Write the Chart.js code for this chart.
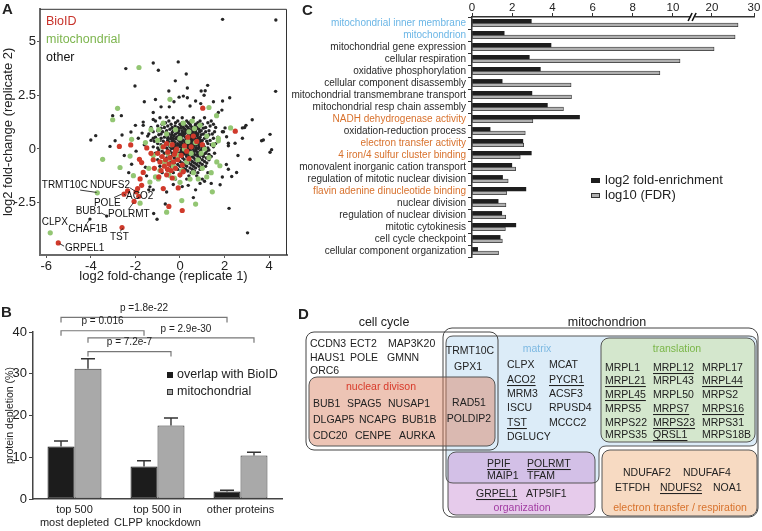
<!DOCTYPE html>
<html>
<head>
<meta charset="utf-8">
<title>CLPP proximity figure</title>
<script src="https://cdn.jsdelivr.net/npm/chart.js@4.4.1/dist/chart.umd.min.js"></script>
<style>
    html, body { margin: 0; padding: 0; background: #fff; }
    body { position: relative; width: 762px; height: 531px; overflow: hidden;
           font-family: 'Liberation Sans', Arial, sans-serif; color: #222; }
    canvas, svg { position: absolute; }
    .tag { position: absolute; font-weight: bold; font-size: 15px; line-height: 15px; }
</style>
</head>
<body>
<canvas id="chartA" width="295" height="285" style="left:0;top:0"></canvas>
<canvas id="chartB" width="292" height="241" style="left:0;top:290px"></canvas>
<canvas id="chartC" width="500" height="290" style="left:262px;top:0"></canvas>
<svg id="panelD" width="762" height="531" style="left:0;top:0"></svg>
<div class="tag" style="left:2px;top:1px">A</div>
<div class="tag" style="left:1px;top:304px">B</div>
<div class="tag" style="left:302px;top:2px">C</div>
<div class="tag" style="left:298px;top:306px">D</div>

<script>
/************************** 数据 A：散点 (replicate 1, replicate 2) **************************/
var bioidPts = [
    [1.02, 1.9], [2.48, 0.83], [-2.72, 0.12], [-2.21, 0.19], [-1.49, 0.05], [-1.72, -0.63], [-1.82, -0.48],
    [-1.65, -1.09], [-1.79, -1.39], [-1.72, -1.69], [-1.9, -1.84], [-0.75, -1.84], [-0.08, -1.81], [0.1, -2.86],
    [-0.5, -2.67], [-1.85, -2.2], [-2.51, -2.1], [-2.06, -2.44], [-2.6, -3.65], [-5.46, -4.37], [-2.35, -1.95],
    [-1.97, -1.99], [0.75, 0.35], [0.3, -0.1], [0.6, 0.6], [1.0, 0.2], [-1.0, -0.2], [-0.9, -0.6], [-0.85, -1.0],
    [-0.8, -0.35], [-0.75, 0.1], [-0.7, -0.8], [-0.65, -0.5], [-0.6, -1.2], [-0.55, -0.15], [-0.5, -0.7],
    [-0.45, -0.4], [-0.4, -1.0], [-0.35, 0.2], [-0.3, -0.6], [-0.25, -0.25], [-0.2, -0.9], [-0.15, 0.0],
    [-0.1, -0.5], [0.0, -1.2], [0.05, -0.3], [0.1, -0.75], [0.2, 0.15], [-0.95, -1.3], [-1.15, -0.9],
    [-1.2, -0.5], [-0.6, 0.25], [0.4, -0.45], [0.15, -1.05], [-0.35, -1.35], [-0.55, -0.95], [-0.2, -0.1],
    [0.5, 0.1], [-1.3, -0.2], [0.35, 0.55]
];
var mitoPts = [
    [-1.84, 3.79], [-0.45, 2.31], [1.3, 1.93], [1.64, 1.55], [-2.8, 1.89], [-3.02, 1.36], [-2.17, 0.45],
    [2.27, 0.98], [1.72, 0.5], [1.72, 0.38], [1.79, -0.78], [1.45, -1.99], [0.82, -1.39], [0.0, -1.55],
    [-3.47, -0.48], [-2.24, -0.33], [-2.69, -0.86], [-2.09, -1.24], [-1.35, -1.54], [-0.97, -1.39],
    [0.7, -2.56], [0.08, -2.4], [-0.6, -2.94], [-1.79, -2.52], [-1.94, -1.99], [-3.71, -2.04], [-5.82, -3.9],
    [-1.4, -0.9], [-1.2, -0.3], [-1.0, 0.4], [-0.9, -1.0], [-0.8, 0.1], [-0.7, -0.6], [-0.6, 0.7], [-0.5, -1.2],
    [-0.4, 0.2], [-0.3, -0.8], [-0.2, 0.9], [-0.1, -0.3], [0.0, 0.5], [0.1, -1.0], [0.2, 0.0], [0.3, -0.6],
    [0.4, 0.8], [0.5, -0.2], [0.6, -1.1], [0.7, 0.3], [0.8, -0.5], [0.9, 1.1], [1.0, -0.9], [1.1, 0.0],
    [1.2, 0.6], [1.3, -0.4], [1.4, -1.1], [1.5, 0.2], [-1.1, -1.3], [-0.25, -1.35], [0.45, -1.4], [1.2, -1.3],
    [-0.55, -0.2], [0.15, 1.2], [-0.95, 0.9], [0.65, 0.95], [-0.15, -0.05], [0.35, 0.35], [-0.45, -0.45],
    [0.95, -0.2], [1.65, -0.6], [-1.55, 0.3], [-1.3, 0.9], [0.55, 1.3], [-0.75, 1.2]
];
var otherPts = [
    [1.91, 6.03], [4.3, 6.0], [-1.2, 4.0], [-0.08, 4.05], [-2.43, 3.74], [-0.97, 3.66], [0.28, 3.49],
    [-0.21, 3.17], [-2.02, 2.93], [0.33, 2.84], [1.24, 2.96], [1.13, 2.71], [1.08, 2.5], [4.29, 2.68],
    [2.23, 2.38], [1.91, 2.23], [-0.04, 2.41], [0.15, 2.46], [0.33, 2.38], [-0.27, 2.2], [0.7, 2.23],
    [-0.48, 1.96], [-0.85, 1.96], [0.45, 2.0], [0.93, 2.11], [1.88, 1.81], [1.72, 1.7], [-3.02, 1.55],
    [-2.63, 1.55], [-1.2, 1.7], [-0.6, 1.48], [-1.65, 1.25], [-1.2, 1.37], [-4.0, 0.42], [-3.78, 0.62],
    [-2.2, 0.79], [2.96, 1.1], [2.8, 0.98], [3.24, 1.36], [2.09, 0.57], [1.95, 0.8], [2.17, 0.15], [4.04, 0.68],
    [3.74, 0.42], [4.11, -0.03], [4.04, -0.15], [3.66, 0.38], [2.9, 1.0], [2.47, 0.27], [2.17, 0.27],
    [2.02, 0.98], [1.9, 0.8], [3.14, -0.48], [2.54, -1.09], [2.32, -1.28], [2.17, -0.94], [2.08, -0.72],
    [0.9, -1.6], [0.37, -1.69], [-3.14, 0.12], [-2.91, 0.38], [-1.97, -0.1], [-1.87, 0.5], [-1.7, 0.74],
    [-1.65, 1.1], [-2.17, -0.71], [-0.6, -2.0], [1.8, -1.66], [2.2, -2.76], [3.03, -3.9], [0.6, -2.26],
    [-0.66, -2.56], [-1.03, -3.27], [-1.18, -3.0], [-3.29, -3.12], [-4.04, -3.26], [-2.5, -0.3], [-2.3, -1.1],
    [-1.55, -0.85], [-1.5, -1.25], [-1.4, -1.9], [-1.35, -1.76], [-1.2, -1.9], [-0.3, -1.65], [0.1, -1.75],
    [0.7, -1.9], [1.1, -1.5], [1.4, -1.6], [1.9, -1.3], [2.6, -0.3], [2.8, 0.5], [-1.6, 0.2], [-1.45, 0.6],
    [-2.6, 0.65], [-2.0, 1.1], [-1.1, 2.3], [0.95, 2.7], [1.5, 2.2], [-0.5, 2.7], [-1.6, 2.2],
    [-0.9, 1.45], [-0.3, 1.45], [0.1, 1.45], [0.6, 1.45], [1.1, 1.45],
    [-1.1, 1.3], [-0.5, 1.3], [-0.1, 1.3], [0.3, 1.3], [0.5, 1.3], [0.9, 1.3], [1.4, 1.3],
    [-0.8, 1.15], [-0.4, 1.15], [0.0, 1.15], [0.2, 1.15], [0.45, 1.15], [0.7, 1.15], [1.0, 1.15], [1.5, 1.15],
    [-1.3, 1.0], [-0.7, 1.0], [-0.35, 1.0], [-0.1, 1.0], [0.15, 1.0], [0.35, 1.0], [0.55, 1.0], [0.8, 1.0],
    [1.15, 1.0], [1.6, 1.0],
    [-1.0, 0.85], [-0.6, 0.85], [-0.3, 0.85], [-0.05, 0.85], [0.1, 0.85], [0.3, 0.85], [0.5, 0.85], [0.7, 0.85],
    [0.95, 0.85], [1.3, 0.85],
    [-1.4, 0.7], [-0.85, 0.7], [-0.5, 0.7], [-0.2, 0.7], [0.0, 0.7], [0.2, 0.7], [0.4, 0.7], [0.6, 0.7],
    [0.8, 0.7], [1.05, 0.7], [1.45, 0.7],
    [-1.1, 0.55], [-0.7, 0.55], [-0.4, 0.55], [-0.15, 0.55], [0.05, 0.55], [0.25, 0.55], [0.45, 0.55],
    [0.65, 0.55], [0.9, 0.55], [1.2, 0.55], [1.7, 0.55],
    [-1.3, 0.4], [-0.9, 0.4], [-0.55, 0.4], [-0.3, 0.4], [-0.05, 0.4], [0.15, 0.4], [0.35, 0.4], [0.55, 0.4],
    [0.75, 0.4], [1.0, 0.4], [1.35, 0.4],
    [-1.0, 0.25], [-0.65, 0.25], [-0.35, 0.25], [-0.1, 0.25], [0.1, 0.25], [0.3, 0.25], [0.5, 0.25],
    [0.7, 0.25], [0.95, 0.25], [1.25, 0.25], [1.6, 0.25],
    [-1.2, 0.1], [-0.8, 0.1], [-0.45, 0.1], [-0.2, 0.1], [0.0, 0.1], [0.2, 0.1], [0.4, 0.1], [0.6, 0.1],
    [0.85, 0.1], [1.1, 0.1], [1.5, 0.1],
    [-0.95, -0.05], [-0.55, -0.05], [-0.25, -0.05], [0.05, -0.05], [0.25, -0.05], [0.45, -0.05], [0.7, -0.05],
    [0.95, -0.05], [1.3, -0.05],
    [-1.1, -0.2], [-0.7, -0.2], [-0.35, -0.2], [-0.05, -0.2], [0.15, -0.2], [0.35, -0.2], [0.6, -0.2],
    [0.85, -0.2], [1.15, -0.2], [1.55, -0.2],
    [-0.85, -0.35], [-0.4, -0.35], [0.0, -0.35], [0.3, -0.35], [0.55, -0.35], [0.8, -0.35], [1.05, -0.35],
    [1.4, -0.35],
    [-1.0, -0.5], [-0.55, -0.5], [-0.15, -0.5], [0.2, -0.5], [0.45, -0.5], [0.7, -0.5], [1.0, -0.5], [1.3, -0.5],
    [-0.7, -0.65], [-0.25, -0.65], [0.1, -0.65], [0.4, -0.65], [0.65, -0.65], [0.9, -0.65], [1.2, -0.65],
    [-0.9, -0.8], [-0.4, -0.8], [0.0, -0.8], [0.3, -0.8], [0.6, -0.8], [0.85, -0.8], [1.15, -0.8],
    [-0.6, -0.95], [-0.1, -0.95], [0.25, -0.95], [0.55, -0.95], [0.9, -0.95],
    [-0.8, -1.1], [-0.3, -1.1], [0.15, -1.1], [0.5, -1.1], [0.8, -1.1], [1.25, -1.1],
    [-0.5, -1.25], [0.0, -1.25], [0.4, -1.25], [0.75, -1.25],
    [-1.0, -1.4], [-0.2, -1.4], [0.3, -1.4], [1.0, -1.4],
    [-0.45, 0.92], [-0.15, 0.92], [0.22, 0.92], [0.42, 0.92], [0.62, 0.92], [0.85, 0.92],
    [-0.62, 0.77], [-0.35, 0.77], [-0.1, 0.77], [0.12, 0.77], [0.32, 0.77], [0.52, 0.77], [0.72, 0.77],
    [-0.55, 0.62], [-0.28, 0.62], [-0.05, 0.62], [0.15, 0.62], [0.35, 0.62], [0.55, 0.62], [0.78, 0.62],
    [-0.42, 0.47], [-0.18, 0.47], [0.08, 0.47], [0.28, 0.47], [0.48, 0.47], [0.68, 0.47], [0.88, 0.47],
    [-0.5, 0.32], [-0.22, 0.32], [0.02, 0.32], [0.22, 0.32], [0.42, 0.32], [0.62, 0.32], [0.82, 0.32],
    [-0.35, 0.17], [-0.1, 0.17], [0.12, 0.17], [0.32, 0.17], [0.52, 0.17], [0.72, 0.17],
    [-0.38, 0.02], [-0.12, 0.02], [0.15, 0.02], [0.35, 0.02], [0.58, 0.02], [0.82, 0.02],
    [-0.2, -0.13], [0.05, -0.13], [0.28, -0.13], [0.5, -0.13], [0.75, -0.13],
    [-0.2, -0.28], [0.12, -0.28], [0.42, -0.28], [0.68, -0.28], [0.95, -0.28],
    [-0.65, 1.22], [-0.2, 1.22], [0.1, 1.22], [0.38, 1.22], [0.8, 1.22], [1.25, 1.22],
    [-1.0, 1.07], [-0.55, 1.07], [-0.22, 1.07], [0.05, 1.07], [0.28, 1.07], [0.48, 1.07], [0.68, 1.07],
    [0.92, 1.07], [1.35, 1.07],
    [-0.85, 0.97], [0.02, 0.97], [0.75, 0.97], [1.05, 0.97],
    [-1.2, 0.8], [-0.78, 0.8], [0.25, 0.8], [0.6, 0.8], [0.88, 0.8], [1.15, 0.8], [1.55, 0.8],
    [-0.95, 0.66], [-0.38, 0.66], [0.08, 0.66], [0.45, 0.66], [0.7, 0.66], [0.95, 0.66], [1.3, 0.66],
    [-1.2, 0.5], [-0.85, 0.5], [-0.55, 0.5], [-0.3, 0.5], [0.38, 0.5], [0.58, 0.5], [0.8, 0.5], [1.1, 0.5],
    [1.5, 0.5],
    [-1.15, 0.36], [-0.75, 0.36], [-0.35, 0.36], [0.1, 0.36], [0.32, 0.36], [0.52, 0.36], [0.72, 0.36],
    [0.92, 0.36], [1.2, 0.36],
    [-0.85, 0.2], [-0.5, 0.2], [-0.22, 0.2], [0.0, 0.2], [0.22, 0.2], [0.42, 0.2], [0.62, 0.2], [0.85, 0.2],
    [1.05, 0.2], [1.4, 0.2],
    [-1.0, 0.05], [-0.6, 0.05], [-0.3, 0.05], [0.1, 0.05], [0.3, 0.05], [0.5, 0.05], [0.72, 0.05],
    [0.98, 0.05], [1.25, 0.05],
    [-0.8, -0.1], [-0.45, -0.1], [-0.12, -0.1], [0.18, -0.1], [0.4, -0.1], [0.62, -0.1], [0.9, -0.1],
    [1.2, -0.1],
    [-0.55, -0.25], [0.0, -0.25], [0.25, -0.25], [0.5, -0.25], [0.78, -0.25], [1.05, -0.25], [1.3, -0.25],
    [-0.6, -0.42], [-0.25, -0.42], [0.12, -0.42], [0.38, -0.42], [0.62, -0.42], [0.88, -0.42], [1.18, -0.42],
    [-0.4, -0.58], [0.0, -0.58], [0.3, -0.58], [0.55, -0.58], [0.8, -0.58], [1.1, -0.58],
    [-0.5, -0.72], [-0.1, -0.72], [0.2, -0.72], [0.5, -0.72], [0.75, -0.72], [1.0, -0.72],
    [-0.2, -0.88], [0.15, -0.88], [0.45, -0.88], [0.7, -0.88], [1.0, -0.88],
    [-0.4, -1.02], [0.05, -1.02], [0.35, -1.02], [0.65, -1.02]
];
var aXTicks = [-6, -4, -2, 0, 2, 4];
var aYTicks = [-2.5, 0, 2.5, 5];
// 基因标注：名称, 文字位置(x, y), 引线起点, 引线终点（数据坐标）
var geneTags = [
    ['TRMT10C', -6.2, -1.69, -4.48, -1.91, -3.74, -2.02],
    ['NDUFS2', -4.04, -1.69, -2.24, -1.81, -2.0, -1.97],
    ['ACO2', -2.42, -2.22, -2.44, -2.16, -2.52, -2.1],
    ['POLE', -3.86, -2.52, -2.96, -2.26, -2.62, -2.1],
    ['BUB1', -4.68, -2.9, -3.54, -2.97, -3.32, -3.09],
    ['POLRMT', -3.23, -3.02, -2.32, -2.82, -2.09, -2.5],
    ['CLPX', -6.2, -3.43, null],
    ['CHAF1B', -5.01, -3.72, -4.18, -3.47, -4.06, -3.29],
    ['TST', -3.14, -4.1, -2.69, -3.83, -2.55, -3.69],
    ['GRPEL1', -5.16, -4.6, -5.2, -4.52, -5.4, -4.4]
];

/************************** 数据 B：柱状图 **************************/
var bCats = [['top 500', 'most depleted'], ['top 500 in', 'CLPP knockdown'], 'other proteins'];
var bBioid = [12.6, 7.8, 1.8];
var bBioidErr = [1.3, 1.35, 0.3];
var bMito = [31.2, 17.6, 10.4];
var bMitoErr = [2.4, 1.8, 0.8];
var bTicks = [0, 10, 20, 30, 40];
// p 值括号：文字, 起点(数据集, 类别), 终点(数据集, 类别), 高度(%)
var bPvals = [
    ['p =1.8e-22', 0, 0, 0, 2, 43.5],
    ['p = 0.016', 0, 0, 0, 1, 40.3],
    ['p = 2.9e-30', 1, 0, 1, 2, 38.6],
    ['p = 7.2e-7', 1, 0, 1, 1, 35.3]
];

/************************** 数据 C：GO 富集 **************************/
var cTerms = [
    'mitochondrial inner membrane', 'mitochondrion', 'mitochondrial gene expression', 'cellular respiration',
    'oxidative phosphorylation', 'cellular component disassembly', 'mitochondrial transmembrane transport',
    'mitochondrial resp chain assembly', 'NADH dehydrogenase activity', 'oxidation-reduction process',
    'electron transfer activity', '4 iron/4 sulfur cluster binding', 'monovalent inorganic cation transport',
    'regulation of mitotic nuclear division', 'flavin adenine dinucleotide binding', 'nuclear division',
    'regulation of nuclear division', 'mitotic cytokinesis', 'cell cycle checkpoint',
    'cellular component organization'
];
var cEnrich = [2.95, 1.6, 3.93, 2.85, 3.4, 1.5, 2.98, 3.75, 5.35, 0.9, 2.53, 2.95, 1.98, 1.52, 2.68, 1.3, 1.48, 2.18, 1.4, 0.28];
var cFdr = [26.2, 25.5, 20.5, 10.35, 9.35, 4.93, 4.95, 4.55, 3.03, 2.65, 2.57, 2.4, 2.17, 1.8, 1.72, 1.69, 1.68, 1.66, 1.51, 1.32];
var cTicks = [0, 2, 4, 6, 8, 10, 20, 30];
var cBlueTerms = ['mitochondrial inner membrane', 'mitochondrion'];
var cOrangeTerms = ['NADH dehydrogenase activity', 'electron transfer activity',
    '4 iron/4 sulfur cluster binding', 'flavin adenine dinucleotide binding'];

/************************** 数据 D：基因分组 **************************/
var cellCycleGenes = [['CCDN3', 'ECT2', 'MAP3K20'], ['HAUS1', 'POLE', 'GMNN'], ['ORC6']];
var nuclearGenes = [['BUB1', 'SPAG5', 'NUSAP1'], ['DLGAP5', 'NCAPG', 'BUB1B'], ['CDC20', 'CENPE', 'AURKA']];
var sharedGenes = [['TRMT10C'], ['GPX1'], ['RAD51'], ['POLDIP2']];
var matrixGenes = [['CLPX', 'MCAT'], ['ACO2', 'PYCR1'], ['MRM3', 'ACSF3'], ['ISCU', 'RPUSD4'], ['TST', 'MCCC2'], ['DGLUCY']];
var translationGenes = [['MRPL1', 'MRPL12', 'MRPL17'], ['MRPL21', 'MRPL43', 'MRPL44'], ['MRPL45', 'MRPL50', 'MRPS2'],
    ['MRPS5', 'MRPS7', 'MRPS16'], ['MRPS22', 'MRPS23', 'MRPS31'], ['MRPS35', 'QRSL1', 'MRPS18B']];
var etGenes = [['NDUFAF2', 'NDUFAF4'], ['ETFDH', 'NDUFS2', 'NOA1']];
var orgGenes = [['PPIF', 'POLRMT'], ['MAIP1', 'TFAM'], ['GRPEL1', 'ATP5IF1']];
var underlined = ['ACO2', 'PYCR1', 'TST', 'MRPL12', 'MRPL21', 'MRPL44', 'MRPL45', 'MRPS7', 'MRPS16',
    'MRPS23', 'QRSL1', 'NDUFS2', 'PPIF', 'POLRMT', 'GRPEL1'];

/************************** 全局配置 **************************/
var FAM = "'Liberation Sans', Arial, sans-serif";
Chart.defaults.font.family = FAM;
Chart.defaults.color = '#222';
Chart.defaults.animation = false;
Chart.defaults.responsive = false;
Chart.defaults.plugins.legend.display = false;
Chart.defaults.plugins.tooltip.enabled = false;

function toXY(pts) {
    return pts.map(function (p) { return {x: p[0], y: p[1]}; });
}
function fixedTicks(list) {
    return function (scale) {
        scale.ticks = list.map(function (v) { return {value: v}; });
    };
}

/************************** A：散点图 **************************/
var panelAExtras = {
    id: 'panelAExtras',
    afterDraw: function (chart) {
        var c = chart.ctx, a = chart.chartArea, sx = chart.scales.x, sy = chart.scales.y;
        c.save();
        // 上边和右边的细框
        c.strokeStyle = '#333';
        c.lineWidth = 1;
        c.beginPath();
        c.moveTo(a.left, a.top + 0.5);
        c.lineTo(a.right - 0.5, a.top + 0.5);
        c.lineTo(a.right - 0.5, a.bottom);
        c.stroke();
        // 图例文字
        c.font = '12.5px ' + FAM;
        c.textBaseline = 'middle';
        c.textAlign = 'left';
        [['BioID', '#c8322a'], ['mitochondrial', '#7db54e'], ['other', '#111']].forEach(function (l, i) {
            c.fillStyle = l[1];
            c.fillText(l[0], a.left + 6, a.top + 13 + i * 18);
        });
        // 基因标注
        c.font = '10px ' + FAM;
        c.fillStyle = '#111';
        c.strokeStyle = '#222';
        c.lineWidth = 0.9;
        geneTags.forEach(function (t) {
            c.fillText(t[0], sx.getPixelForValue(t[1]), sy.getPixelForValue(t[2]));
            if (t[3] !== null) {
                c.beginPath();
                c.moveTo(sx.getPixelForValue(t[3]), sy.getPixelForValue(t[4]));
                c.lineTo(sx.getPixelForValue(t[5]), sy.getPixelForValue(t[6]));
                c.stroke();
            }
        });
        c.restore();
    }
};

new Chart(document.getElementById('chartA'), {
    type: 'scatter',
    data: {
        datasets: [
            {label: 'BioID', data: toXY(bioidPts), backgroundColor: '#d03a2b', pointRadius: 2.6, borderWidth: 0},
            {label: 'mitochondrial', data: toXY(mitoPts), backgroundColor: '#93c673', pointRadius: 2.6, borderWidth: 0},
            {label: 'other', data: toXY(otherPts), backgroundColor: '#262626', pointRadius: 1.7, borderWidth: 0}
        ]
    },
    options: {
        layout: {padding: {top: 2, right: 8, left: 0, bottom: 0}},
        scales: {
            x: {
                type: 'linear', min: -6.28, max: 4.8,
                afterBuildTicks: fixedTicks(aXTicks),
                afterFit: function (s) { s.height = 30; },
                grid: {drawOnChartArea: false, tickLength: 3, color: '#555'},
                border: {color: '#6a6a6a', width: 2},
                ticks: {font: {size: 13}, padding: 1, color: '#222', callback: function (v) { return String(v); }},
                title: {display: true, text: 'log2 fold-change (replicate 1)', font: {size: 13}, color: '#222',
                    padding: {top: 0, bottom: 1}}
            },
            y: {
                type: 'linear', min: -4.93, max: 6.52,
                afterBuildTicks: fixedTicks(aYTicks),
                afterFit: function (s) { s.width = 40; },
                grid: {drawOnChartArea: false, tickLength: 3, color: '#555'},
                border: {color: '#6a6a6a', width: 2},
                ticks: {font: {size: 13}, padding: 1, color: '#222', callback: function (v) { return String(v); }},
                title: {display: true, text: 'log2 fold-change (replicate 2)', font: {size: 13}, color: '#222',
                    padding: {top: 1, bottom: 0}}
            }
        }
    },
    plugins: [panelAExtras]
});

/************************** B：柱状图 + 误差线 + p 值 **************************/
var panelBExtras = {
    id: 'panelBExtras',
    afterDatasetsDraw: function (chart) {
        var c = chart.ctx, sy = chart.scales.y, a = chart.chartArea;
        var errs = [bBioidErr, bMitoErr];
        var vals = [bBioid, bMito];
        c.save();
        // 误差线（只画向上）
        c.strokeStyle = '#333';
        c.lineWidth = 1.4;
        [0, 1].forEach(function (d) {
            chart.getDatasetMeta(d).data.forEach(function (bar, i) {
                var top = sy.getPixelForValue(vals[d][i] + errs[d][i]);
                c.beginPath();
                c.moveTo(bar.x, bar.y);
                c.lineTo(bar.x, top);
                c.moveTo(bar.x - 7, top);
                c.lineTo(bar.x + 7, top);
                c.stroke();
            });
        });
        // p 值括号
        c.strokeStyle = '#777';
        c.lineWidth = 1.2;
        c.fillStyle = '#222';
        c.font = '10px ' + FAM;
        c.textAlign = 'center';
        c.textBaseline = 'middle';
        bPvals.forEach(function (p, k) {
            var x1 = chart.getDatasetMeta(p[1]).data[p[2]].x;
            var x2 = chart.getDatasetMeta(p[3]).data[p[4]].x;
            var y = sy.getPixelForValue(p[5]);
            c.beginPath();
            c.moveTo(x1, y + 5);
            c.lineTo(x1, y);
            c.lineTo(x2, y);
            c.lineTo(x2, y + 5);
            c.stroke();
            var tx = (x1 + x2) / 2 + (k === 2 ? 15 : 0);
            c.fillText(p[0], tx, y - 9);
        });
        // 图例
        c.textAlign = 'left';
        c.font = '12.5px ' + FAM;
        c.fillStyle = '#1c1c1c';
        c.fillRect(a.left + 134, a.top + 40, 6, 6);
        c.fillStyle = '#a9a9a9';
        c.fillRect(a.left + 134, a.top + 57, 6, 6);
        c.strokeStyle = '#333';
        c.lineWidth = 1;
        c.strokeRect(a.left + 134.5, a.top + 57.5, 5, 5);
        c.fillStyle = '#222';
        c.fillText('overlap with BioID', a.left + 144, a.top + 43);
        c.fillText('mitochondrial', a.left + 144, a.top + 60);
        c.restore();
    }
};

new Chart(document.getElementById('chartB'), {
    type: 'bar',
    data: {
        labels: bCats,
        datasets: [
            {label: 'overlap with BioID', data: bBioid, backgroundColor: '#1c1c1c', borderColor: '#111',
                borderWidth: 1, borderSkipped: false},
            {label: 'mitochondrial', data: bMito, backgroundColor: '#a9a9a9', borderColor: '#333',
                borderWidth: 1, borderSkipped: false}
        ]
    },
    options: {
        layout: {padding: {top: 42, right: 10, left: 0, bottom: 0}},
        datasets: {bar: {categoryPercentage: 0.65, barPercentage: 1.0}},
        scales: {
            x: {
                grid: {display: false, drawTicks: false},
                border: {color: '#444', width: 1.5},
                ticks: {font: {size: 11, lineHeight: 1.2}, padding: 4.5, color: '#222', maxRotation: 0,
                    autoSkip: false},
                afterFit: function (s) { s.height = 32; }
            },
            y: {
                min: 0, max: 40,
                afterBuildTicks: fixedTicks(bTicks),
                afterFit: function (s) { s.width = 33; },
                grid: {drawOnChartArea: false, tickLength: 4, color: '#444'},
                border: {color: '#444', width: 1.5},
                ticks: {font: {size: 13}, padding: 2, color: '#222'},
                title: {display: true, text: 'protein depletion (%)', font: {size: 10.5}, color: '#222',
                    padding: {top: 3.5, bottom: 0}}
            }
        }
    },
    plugins: [panelBExtras]
});

/************************** C：横向柱状图（断轴） **************************/
// 断轴：0~11 线性，20~30 压缩
function brk(v) {
    return v <= 11 ? v : 11.94 + (v - 20) * 0.209;
}

var panelCExtras = {
    id: 'panelCExtras',
    afterDraw: function (chart) {
        var c = chart.ctx, a = chart.chartArea, sx = chart.scales.x;
        c.save();
        // 断轴标记 //
        var bx = sx.getPixelForValue(11.0);
        c.fillStyle = '#fff';
        c.fillRect(bx - 2, a.top - 2, 4, 4);
        c.strokeStyle = '#111';
        c.lineWidth = 1.6;
        c.beginPath();
        c.moveTo(bx - 5, a.top + 4);
        c.lineTo(bx - 1, a.top - 4);
        c.moveTo(bx - 1, a.top + 4);
        c.lineTo(bx + 3, a.top - 4);
        c.stroke();
        // 图例
        var lx = a.left + 119, ly = a.top + 163;
        c.fillStyle = '#1e1e1e';
        c.fillRect(lx, ly - 2, 9, 5);
        c.fillStyle = '#b0b0b0';
        c.fillRect(lx, ly + 13, 9, 5);
        c.strokeStyle = '#333';
        c.lineWidth = 1;
        c.strokeRect(lx + 0.5, ly + 13.5, 8, 4);
        c.fillStyle = '#222';
        c.font = '13px ' + FAM;
        c.textBaseline = 'middle';
        c.fillText('log2 fold-enrichment', lx + 14, ly);
        c.fillText('log10 (FDR)', lx + 14, ly + 15);
        c.restore();
    }
};

new Chart(document.getElementById('chartC'), {
    type: 'bar',
    data: {
        labels: cTerms,
        datasets: [
            {label: 'log2 fold-enrichment', data: cEnrich.map(brk), backgroundColor: '#1e1e1e', barThickness: 3.6},
            {label: 'log10 (FDR)', data: cFdr.map(brk), backgroundColor: '#b0b0b0', borderColor: '#333',
                borderWidth: 0.8, borderSkipped: false, barThickness: 3.6}
        ]
    },
    options: {
        indexAxis: 'y',
        layout: {padding: {top: 0, right: 8, left: 0, bottom: 33}},
        scales: {
            x: {
                type: 'linear', position: 'top', min: 0, max: brk(30),
                afterBuildTicks: function (s) {
                    s.ticks = cTicks.map(function (v) { return {value: brk(v)}; });
                },
                afterFit: function (s) { s.height = 17; },
                grid: {drawOnChartArea: false, tickLength: 4, color: '#333'},
                border: {color: '#333', width: 1.5},
                ticks: {font: {size: 11.5}, padding: -2, color: '#222',
                    callback: function (v, i) { return String(cTicks[i]); }}
            },
            y: {
                afterFit: function (s) { s.width = 210; },
                grid: {drawOnChartArea: false, tickLength: 4, color: '#333'},
                border: {color: '#333', width: 1.5},
                ticks: {
                    font: {size: 10}, padding: 2, autoSkip: false,
                    color: function (ctx) {
                        var t = cTerms[ctx.index];
                        if (cBlueTerms.indexOf(t) >= 0) return '#6bb6e6';
                        if (cOrangeTerms.indexOf(t) >= 0) return '#d8712c';
                        return '#2a2a2a';
                    }
                }
            }
        }
    },
    plugins: [panelCExtras]
});

/************************** D：基因分组示意图 **************************/
var svg = document.getElementById('panelD');
var NS = 'http://www.w3.org/2000/svg';
function add(tag, attrs, text) {
    var e = document.createElementNS(NS, tag);
    for (var k in attrs) e.setAttribute(k, attrs[k]);
    if (text !== undefined) e.textContent = text;
    svg.appendChild(e);
    return e;
}
function label(s, x, y, size, color, anchor) {
    var t = add('text', {x: x, y: y, 'font-size': size, fill: color, 'text-anchor': anchor || 'start',
        'dominant-baseline': 'central', 'font-family': FAM}, s);
    if (underlined.indexOf(s) >= 0) t.setAttribute('text-decoration', 'underline');
    return t;
}
function placeGenes(rows, xs, ys, anchor) {
    rows.forEach(function (row, r) {
        row.forEach(function (g, i) {
            label(g, xs[r][i], ys[r], 10.5, '#222', anchor);
        });
    });
}

var blueShape = 'M453 336 H749 Q757 336 757 344 V439 Q757 446 750 446 H606 Q599 446 599 453 V476 ' +
    'Q599 483 592 483 H453 Q446 483 446 476 V343 Q446 336 453 336 Z';
add('rect', {x: 443, y: 328, width: 315, height: 189, rx: 9, fill: '#fff', stroke: '#444', 'stroke-width': 1});
add('path', {d: blueShape, fill: '#dcecf8', stroke: 'none'});
add('rect', {x: 601, y: 338, width: 154, height: 104, rx: 8, fill: '#d4e7cd', stroke: '#555', 'stroke-width': 1});
add('rect', {x: 602, y: 450, width: 155, height: 66, rx: 8, fill: '#f7dac2', stroke: '#555', 'stroke-width': 1});
add('rect', {x: 448, y: 452, width: 147, height: 63, rx: 8, fill: 'rgba(200,140,210,0.45)', stroke: '#555', 'stroke-width': 1});
add('path', {d: blueShape, fill: 'none', stroke: '#555', 'stroke-width': 1});
add('rect', {x: 309, y: 377, width: 186, height: 69, rx: 8, fill: 'rgba(215,125,90,0.45)', stroke: '#555', 'stroke-width': 1});
add('rect', {x: 306, y: 332, width: 192, height: 118, rx: 8, fill: 'none', stroke: '#444', 'stroke-width': 1});

label('cell cycle', 384, 322, 12.5, '#222', 'middle');
label('mitochondrion', 607, 322, 12.5, '#222', 'middle');
label('nuclear divison', 381, 386, 10.5, '#d83a2a', 'middle');
label('matrix', 537, 348, 10.5, '#7db9e2', 'middle');
label('translation', 677, 348, 10.5, '#7ab648', 'middle');
label('electron transfer / respiration', 680, 507, 10.5, '#d8722c', 'middle');
label('organization', 522, 507, 10.5, '#a23ca2', 'middle');

placeGenes(cellCycleGenes, [[310, 350, 388], [310, 350, 387], [310]], [343, 357, 370]);
placeGenes(nuclearGenes, [[313, 347, 388], [313, 359, 402], [313, 355, 399]], [403, 419, 435]);
placeGenes(sharedGenes, [[470], [468], [469], [469]], [350, 366, 402, 418], 'middle');
placeGenes(matrixGenes, [[507, 549], [507, 549], [507, 549], [507, 549], [507, 549], [507]],
    [364, 379, 393, 407, 422, 436]);
placeGenes(translationGenes, [[605, 653, 702], [605, 653, 702], [605, 653, 702], [605, 653, 702],
    [605, 653, 702], [605, 653, 702]], [367, 380, 394, 408, 422, 434]);
placeGenes(etGenes, [[623, 683], [615, 660, 713]], [472, 487]);
placeGenes(orgGenes, [[487, 527], [487, 527], [476, 526]], [463, 475, 493]);
</script>
</body>
</html>
